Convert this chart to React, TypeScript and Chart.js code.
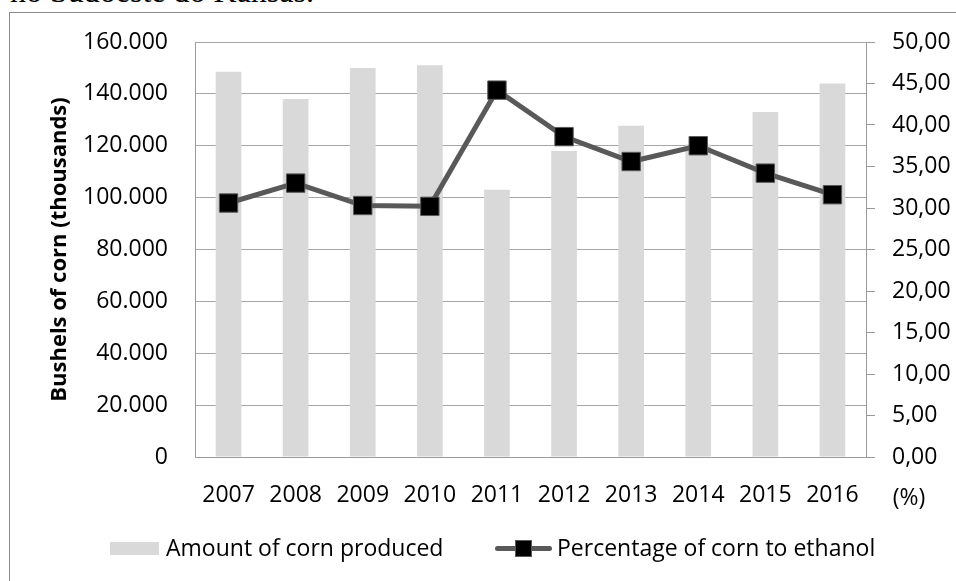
import React, { useEffect, useRef } from "react";
import { Chart, registerables } from "chart.js";

Chart.register(...registerables);

// Harvest years on the category axis
const years = ["2007", "2008", "2009", "2010", "2011", "2012", "2013", "2014", "2015", "2016"];
// Corn produced, bushels (thousands)
const cornProduced = [148500, 138000, 150000, 151000, 103000, 118000, 127700, 120500, 133000, 144000];
// Share of the crop going to ethanol, %
const ethanolShare = [30.6, 33.0, 30.3, 30.2, 44.2, 38.6, 35.6, 37.5, 34.2, 31.6];

const seriesNames = ["Amount of corn produced", "Percentage of corn to ethanol"];
const leftAxisTitle = "Bushels of corn (thousands)";
const rightAxisUnit = "(%)";
const captionText = "no Sudoeste do Kansas.";

const FONT = "'Open Sans'";
const FONT_SIZE = 23;
const TEXT = "#000000";
const GRID = "#a6a6a6";
const AXIS = "#9a9a9a";
const BAR = "#d9d9d9";
const LINE = "#595959";

// 160000 -> "160.000"
const dotThousands = (v: number) => String(Math.round(v)).replace(/\B(?=(\d{3})+(?!\d))/g, ".");
// 45 -> "45,00"
const commaDecimals = (v: number) => v.toFixed(2).replace(".", ",");

// "(%)" printed under the right-hand value axis
const unitLabelPlugin = {
  id: "rightUnitLabel",
  afterDraw(chart: any) {
    const s = chart.scales.y2;
    const ctx = chart.ctx;
    ctx.save();
    ctx.font = `${FONT_SIZE}px ${FONT}`;
    ctx.fillStyle = TEXT;
    ctx.textAlign = "center";
    ctx.textBaseline = "middle";
    ctx.fillText(rightAxisUnit, s.left + 43, chart.chartArea.bottom + 41);
    ctx.restore();
  },
};

const legendText: React.CSSProperties = {
  position: "absolute",
  top: 548,
  transform: "translateY(-50%)",
  fontFamily: FONT,
  fontSize: FONT_SIZE,
  lineHeight: 1.2,
  whiteSpace: "nowrap",
  color: TEXT,
};

export default function App() {
  const ref = useRef<HTMLCanvasElement | null>(null);

  useEffect(() => {
    if (!ref.current) return;
    const tickFont = { family: FONT, size: FONT_SIZE };
    const chart = new Chart(ref.current, {
      type: "bar",
      data: {
        labels: years,
        datasets: [
          {
            type: "bar",
            label: seriesNames[0],
            data: cornProduced,
            yAxisID: "y",
            backgroundColor: BAR,
            borderWidth: 0,
            barPercentage: 0.383,
            categoryPercentage: 1,
            order: 1,
          } as any,
          {
            type: "line",
            label: seriesNames[1],
            data: ethanolShare,
            yAxisID: "y2",
            borderColor: LINE,
            borderWidth: 5,
            tension: 0,
            pointStyle: "rect",
            pointRadius: 13,
            pointHoverRadius: 13,
            pointBackgroundColor: "#000000",
            pointBorderColor: LINE,
            pointBorderWidth: 1,
            order: 0,
          } as any,
        ],
      },
      options: {
        animation: false,
        responsive: false,
        devicePixelRatio: 1,
        layout: { padding: { left: 0, top: 42, right: 0, bottom: 54 } },
        plugins: {
          tooltip: { enabled: false },
          legend: { display: false },
        },
        scales: {
          x: {
            grid: { display: false },
            border: { display: true, color: AXIS, width: 1 },
            ticks: { color: TEXT, font: tickFont, padding: 17, maxRotation: 0, autoSkip: false },
            afterFit: (s: any) => {
              s.height = 70;
            },
          },
          y: {
            position: "left",
            min: 0,
            max: 160000,
            ticks: {
              stepSize: 20000,
              color: TEXT,
              font: tickFont,
              padding: 27,
              callback: (v: any) => dotThousands(Number(v)),
            },
            grid: { color: GRID, lineWidth: 1, drawTicks: false },
            border: { display: true, color: AXIS, width: 1 },
            title: {
              display: true,
              text: leftAxisTitle,
              color: TEXT,
              font: { family: FONT, size: 22, weight: "bold" },
              padding: { top: 47, bottom: 0 },
            },
            afterFit: (s: any) => {
              s.width = 195;
            },
          },
          y2: {
            position: "right",
            min: 0,
            max: 50,
            ticks: {
              stepSize: 5,
              color: TEXT,
              font: tickFont,
              padding: 17,
              callback: (v: any) => commaDecimals(Number(v)),
            },
            grid: { drawOnChartArea: false, drawTicks: true, tickLength: 9, color: AXIS },
            border: { display: true, color: AXIS, width: 1 },
            afterFit: (s: any) => {
              s.width = 90;
            },
          },
        },
      },
      plugins: [unitLabelPlugin],
    } as any);
    return () => chart.destroy();
  }, []);

  return (
    <div
      style={{
        position: "fixed",
        left: 0,
        top: 0,
        width: 956,
        height: 581,
        overflow: "hidden",
        background: "#ffffff",
      }}
    >
      <div
        style={{
          position: "absolute",
          left: 10,
          top: -25,
          fontFamily: "'Liberation Serif', serif",
          fontSize: 32,
          lineHeight: 1,
          whiteSpace: "nowrap",
          color: "#000",
        }}
      >
        {captionText}
      </div>
      <canvas
        ref={ref}
        width={956}
        height={581}
        style={{ position: "absolute", left: 0, top: 0, width: 956, height: 581 }}
      />
      {/* legend */}
      <div style={{ position: "absolute", left: 110, top: 542, width: 49, height: 13, background: BAR }} />
      <div style={{ ...legendText, left: 166 }}>{seriesNames[0]}</div>
      <div style={{ position: "absolute", left: 495, top: 546, width: 57, height: 5, borderRadius: 2.5, background: LINE }} />
      <div
        style={{
          position: "absolute",
          left: 515,
          top: 540,
          width: 17,
          height: 17,
          background: "#000",
          border: `1px solid ${LINE}`,
          boxSizing: "border-box",
        }}
      />
      <div style={{ ...legendText, left: 557 }}>{seriesNames[1]}</div>
      {/* chart frame */}
      <div
        style={{
          position: "absolute",
          left: 9,
          top: 12,
          width: 2000,
          height: 2000,
          border: "1px solid #8a8a8a",
          pointerEvents: "none",
        }}
      />
    </div>
  );
}
